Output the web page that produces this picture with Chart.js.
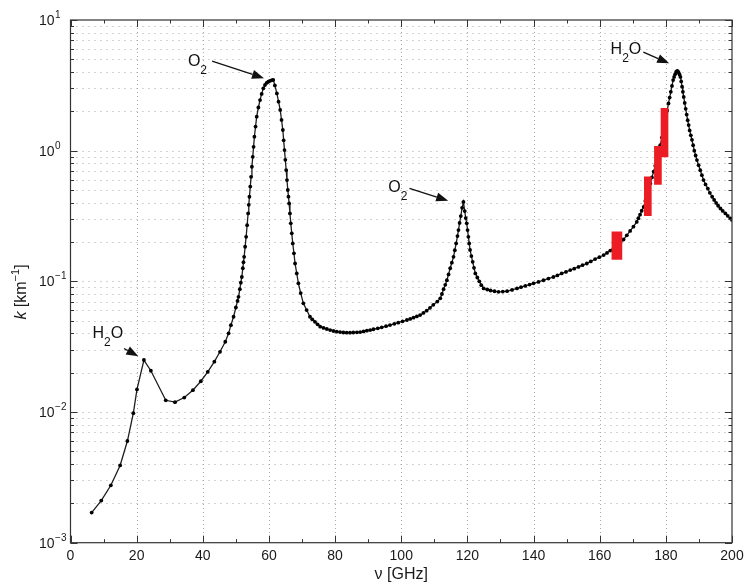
<!DOCTYPE html>
<html><head><meta charset="utf-8">
<script src="https://cdn.jsdelivr.net/npm/chart.js@4.4.1/dist/chart.umd.min.js"></script>
<style>html,body{margin:0;padding:0;background:#fff}#wrap{width:745px;height:583px;position:relative}</style>
</head><body><div id="wrap"><canvas id="c" width="745" height="583"></canvas></div>
<script>
// ---- data ----
const freqGHz = [6.4,9.3,12.2,15.0,17.2,19.0,20.1,22.2,24.3,28.8,31.6,34.4,37.0,39.4,41.5,43.5,45.2,46.8,47.8,48.5,49.3,50.0,50.5,50.8,51.2,51.5,51.8,52.1,52.3,52.5,52.8,53.1,53.4,53.7,53.9,54.1,54.35,54.6,54.85,55.1,55.35,55.6,55.95,56.3,56.8,57.3,57.8,58.3,58.8,59.3,59.8,60.3,60.9,61.3,61.8,62.4,62.9,63.4,63.8,64.2,64.45,64.7,64.95,65.2,65.45,65.7,65.9,66.1,66.35,66.6,66.9,67.2,67.55,67.9,68.4,68.9,69.6,70.4,71.4,72.4,73.1,73.9,74.7,75.5,76.5,77.5,78.5,79.5,80.5,81.5,82.5,83.5,84.5,85.5,86.6,87.6,88.6,89.6,90.6,91.6,92.9,94.1,95.4,96.6,97.9,99.1,100.4,101.7,102.7,103.7,104.7,105.7,106.7,107.7,108.7,109.7,110.9,111.8,112.3,112.8,113.3,113.8,114.3,114.8,115.3,115.8,116.2,116.6,117.0,117.3,117.65,118.0,118.4,118.8,119.2,119.5,119.8,120.05,120.3,120.55,120.8,121.2,121.6,122.0,122.4,123.0,123.6,124.2,124.9,126.0,127.0,128.2,129.4,130.7,132.0,133.5,135.0,136.2,137.5,138.8,140.0,141.5,143.0,144.5,146.0,147.2,148.5,149.8,151.1,152.3,153.6,154.8,156.1,157.3,158.6,159.9,161.2,162.2,163.2,164.2,165.2,166.2,167.2,168.2,169.2,170.2,171.2,171.7,172.2,172.7,173.3,173.8,174.3,174.8,175.3,175.8,176.3,176.8,177.3,177.8,178.3,178.8,179.3,179.65,180.0,180.4,180.8,181.15,181.5,181.85,182.2,182.5,182.8,183.1,183.4,183.65,183.9,184.15,184.4,184.65,184.9,185.15,185.4,185.7,186.0,186.3,186.6,186.9,187.2,187.55,187.9,188.25,188.6,189.0,189.4,189.9,190.4,190.9,191.4,192.0,192.7,193.3,194.0,194.6,195.2,195.8,196.5,197.2,198.0,198.7,199.5,200.0];
const absorptionPerKm = [0.0017,0.0021,0.00275,0.0039,0.0060,0.0098,0.0149,0.0250,0.0207,0.0123,0.0119,0.0129,0.0147,0.0172,0.0203,0.0243,0.0289,0.0345,0.0400,0.0462,0.0536,0.0631,0.0708,0.0762,0.0871,0.0977,0.108,0.126,0.140,0.154,0.184,0.219,0.269,0.331,0.385,0.444,0.531,0.631,0.753,0.897,1.07,1.28,1.53,1.82,2.14,2.44,2.72,3.00,3.18,3.30,3.37,3.42,3.47,3.48,3.16,2.74,2.37,2.05,1.72,1.44,1.20,1.01,0.851,0.711,0.596,0.500,0.445,0.395,0.331,0.278,0.233,0.195,0.164,0.137,0.115,0.0966,0.0813,0.0679,0.0603,0.0536,0.0512,0.0490,0.0469,0.0450,0.0440,0.0432,0.0424,0.0417,0.0412,0.0409,0.0406,0.0405,0.0405,0.0406,0.0407,0.0409,0.0414,0.0419,0.0424,0.0430,0.0437,0.0445,0.0454,0.0463,0.0473,0.0483,0.0494,0.0506,0.0516,0.0527,0.0539,0.0552,0.0573,0.0596,0.0627,0.0661,0.0700,0.0741,0.080,0.0871,0.094,0.102,0.113,0.126,0.139,0.154,0.173,0.195,0.222,0.247,0.280,0.316,0.365,0.405,0.345,0.305,0.278,0.247,0.219,0.195,0.174,0.156,0.141,0.127,0.115,0.107,0.100,0.0935,0.0883,0.0866,0.0851,0.0840,0.0832,0.0835,0.0841,0.0860,0.0883,0.0902,0.0923,0.0945,0.0966,0.0990,0.102,0.105,0.108,0.111,0.115,0.118,0.122,0.125,0.129,0.133,0.137,0.142,0.148,0.153,0.159,0.165,0.172,0.179,0.186,0.195,0.209,0.225,0.243,0.262,0.285,0.304,0.324,0.347,0.372,0.412,0.457,0.507,0.562,0.624,0.692,0.766,0.847,0.964,1.10,1.26,1.44,1.60,1.78,2.02,2.30,2.55,2.82,3.13,3.47,3.67,3.85,4.00,4.08,4.04,3.94,3.82,3.67,3.39,3.09,2.82,2.58,2.32,2.09,1.89,1.71,1.57,1.43,1.31,1.21,1.10,1.00,0.920,0.847,0.774,0.708,0.649,0.596,0.552,0.513,0.476,0.444,0.420,0.398,0.379,0.361,0.346,0.331,0.317,0.303,0.295];

// channel bands (red)
const wideBandCenter = [165.2];
const wideBandLow = [0.147];
const wideBandHigh = [0.239];
const narrowBandCenter = [174.55, 177.6, 179.6];
const narrowBandLow = [0.318, 0.552, 0.897];
const narrowBandHigh = [0.631, 1.08, 2.11];

// axis ticks
const xTickValues = [0,20,40,60,80,100,120,140,160,180,200];
const xMinorValues = [10,30,50,70,90,110,130,150,170,190];
const yDecadeValues = [0.001,0.01,0.1,1,10];
const yDecadeExponents = ['\u22123','\u22122','\u22121','0','1'];
const yMinorFactors = [2,3,4,5,6,7,8,9];

// annotation texts (positions in data units)
const notes = [
  {parts:[['O',0],['2',1]], at:[35.5,4.44], from:[42.8,4.85], to:[58.5,3.59]},
  {parts:[['O',0],['2',1]], at:[96.1,0.486], from:[102.5,0.515], to:[114.2,0.414]},
  {parts:[['H',0],['2',1],['O',0]], at:[163.3,5.53], from:[173.2,5.68], to:[181.0,4.66]},
  {parts:[['H',0],['2',1],['O',0]], at:[6.65,0.0370], from:[16.2,0.0306], to:[20.5,0.0267]}
];

const FONT = '"Liberation Sans", Arial, Helvetica, sans-serif';

const gridPlugin = {
  id:'gridPlugin',
  beforeDatasetsDraw(chart){
    const {ctx, chartArea:ca, scales:{x:xs, y:ys}} = chart;
    ctx.save();
    ctx.strokeStyle = '#a8a8a8';
    ctx.lineWidth = 1;
    ctx.setLineDash([1,5]);
    const yVals = [];
    yDecadeValues.slice(0,4).forEach(d => { [1].concat(yMinorFactors).forEach(m => yVals.push(m*d)); });
    yVals.forEach(v => {
      const y = Math.round(ys.getPixelForValue(v)) + 0.5;
      if (y > ca.bottom - 1) return;
      ctx.beginPath(); ctx.moveTo(ca.left, y); ctx.lineTo(ca.right, y); ctx.stroke();
    });
    ctx.setLineDash([1,3]);
    xTickValues.slice(1,-1).forEach(v => {
      const x = Math.round(xs.getPixelForValue(v)) + 0.5;
      ctx.beginPath(); ctx.moveTo(x, ca.top); ctx.lineTo(x, ca.bottom); ctx.stroke();
    });
    ctx.restore();
  }
};

function drawParts(ctx, parts, x, y){
  parts.forEach(([t, sub]) => {
    if (sub){ ctx.font = '12px ' + FONT; ctx.fillText(t, x, y + 8); }
    else { ctx.font = '16px ' + FONT; ctx.fillText(t, x, y); }
    x += ctx.measureText(t).width;
  });
}

function arrow(ctx, x1, y1, x2, y2){
  const a = Math.atan2(y2-y1, x2-x1), L = 12, W = 4.5;
  const bx = x2 - L*Math.cos(a), by = y2 - L*Math.sin(a);
  ctx.beginPath(); ctx.moveTo(x1, y1); ctx.lineTo(bx, by); ctx.stroke();
  ctx.beginPath();
  ctx.moveTo(x2, y2);
  ctx.lineTo(bx + W*Math.sin(a), by - W*Math.cos(a));
  ctx.lineTo(bx - W*Math.sin(a), by + W*Math.cos(a));
  ctx.closePath(); ctx.fill();
}

const framePlugin = {
  id:'framePlugin',
  afterDatasetsDraw(chart){
    const {ctx, chartArea:ca, scales:{x:xs, y:ys}} = chart;
    ctx.save();
    ctx.strokeStyle = '#333'; ctx.lineWidth = 1.2; ctx.setLineDash([]);
    ctx.strokeRect(ca.left, ca.top, ca.right-ca.left, ca.bottom-ca.top);
    ctx.lineWidth = 1;
    const tick = (x1,y1,x2,y2) => { ctx.beginPath(); ctx.moveTo(x1,y1); ctx.lineTo(x2,y2); ctx.stroke(); };
    xTickValues.forEach(v => { const x = Math.round(xs.getPixelForValue(v))+0.5; tick(x, ca.bottom, x, ca.bottom-7); tick(x, ca.top, x, ca.top+7); });
    xMinorValues.forEach(v => { const x = Math.round(xs.getPixelForValue(v))+0.5; tick(x, ca.bottom, x, ca.bottom-3.5); tick(x, ca.top, x, ca.top+3.5); });
    yDecadeValues.forEach(v => { const y = Math.round(ys.getPixelForValue(v))+0.5; tick(ca.left, y, ca.left+7, y); tick(ca.right, y, ca.right-7, y); });
    yDecadeValues.slice(0,4).forEach(d => yMinorFactors.forEach(m => { const y = Math.round(ys.getPixelForValue(m*d))+0.5; tick(ca.left, y, ca.left+3.5, y); tick(ca.right, y, ca.right-3.5, y); }));
    ctx.fillStyle = '#1a1a1a';
    ctx.font = '14px ' + FONT; ctx.textAlign = 'center'; ctx.textBaseline = 'middle';
    xTickValues.forEach(v => ctx.fillText(String(v), xs.getPixelForValue(v), ca.bottom + 13));
    ctx.textAlign = 'left'; ctx.textBaseline = 'alphabetic';
    yDecadeValues.forEach((v,i) => {
      const y = ys.getPixelForValue(v);
      ctx.font = '14px ' + FONT; ctx.fillText('10', 39, y + 5);
      const w = ctx.measureText('10').width;
      ctx.font = '10px ' + FONT; ctx.fillText(yDecadeExponents[i], 39 + w + 0.5, y - 2);
    });
    ctx.font = '16px ' + FONT; ctx.textAlign = 'center'; ctx.textBaseline = 'middle';
    ctx.fillText('\u03BD [GHz]', (ca.left+ca.right)/2, 575);
    ctx.save();
    ctx.translate(22, 292); ctx.rotate(-Math.PI/2);
    ctx.textAlign = 'left'; ctx.textBaseline = 'middle';
    const segs = [['k','italic 16px '+FONT,0],[' [km','16px '+FONT,0],['\u22121','11px '+FONT,-6],[']','16px '+FONT,0]];
    let tw = 0; segs.forEach(s => { ctx.font = s[1]; tw += ctx.measureText(s[0]).width; });
    let px = -tw/2;
    segs.forEach(s => { ctx.font = s[1]; ctx.fillText(s[0], px, s[2]); px += ctx.measureText(s[0]).width; });
    ctx.restore();
    ctx.textAlign = 'left'; ctx.textBaseline = 'alphabetic';
    ctx.fillStyle = '#111'; ctx.strokeStyle = '#111'; ctx.lineWidth = 1.3;
    notes.forEach(n => {
      drawParts(ctx, n.parts, xs.getPixelForValue(n.at[0]), ys.getPixelForValue(n.at[1]));
      arrow(ctx, xs.getPixelForValue(n.from[0]), ys.getPixelForValue(n.from[1]), xs.getPixelForValue(n.to[0]), ys.getPixelForValue(n.to[1]));
    });
    ctx.restore();
  }
};

const curve = freqGHz.map((f,i) => ({x:f, y:absorptionPerKm[i]}));
const wideBands = wideBandCenter.map((f,i) => ({x:f, y:[wideBandLow[i], wideBandHigh[i]]}));
const narrowBands = narrowBandCenter.map((f,i) => ({x:f, y:[narrowBandLow[i], narrowBandHigh[i]]}));

new Chart(document.getElementById('c'), {
  type:'line',
  data:{datasets:[
    {type:'bar', data:wideBands, backgroundColor:'#ec1c24', borderWidth:0, barThickness:10, grouped:false, order:0},
    {type:'bar', data:narrowBands, backgroundColor:'#ec1c24', borderWidth:0, barThickness:7, grouped:false, order:0},
    {type:'line', data:curve, borderColor:'#1e1e1e', borderWidth:1.3, tension:0, pointRadius:1.9, pointBorderWidth:0, pointBackgroundColor:'#000', fill:false, order:1}
  ]},
  options:{
    responsive:false, animation:false, devicePixelRatio:1,
    layout:{padding:{left:0, right:13, top:20, bottom:0}},
    plugins:{legend:{display:false}, tooltip:{enabled:false}},
    scales:{
      x:{type:'linear', min:0, max:200, offset:false, grid:{display:false, offset:false}, border:{display:false}, ticks:{display:false}, afterFit(s){ s.height = 40.3; }},
      y:{type:'logarithmic', min:0.001, max:10, grid:{display:false}, border:{display:false}, ticks:{display:false}, afterFit(s){ s.width = 70.5; }}
    }
  },
  plugins:[gridPlugin, framePlugin]
});
</script></body></html>
